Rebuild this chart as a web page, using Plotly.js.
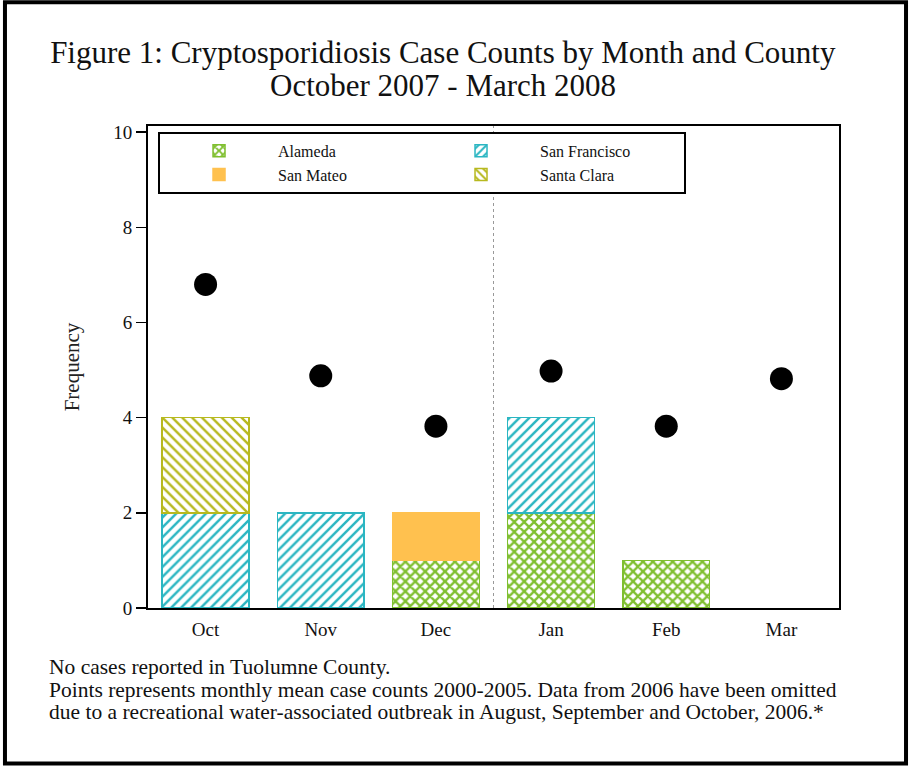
<!DOCTYPE html>
<html>
<head>
<meta charset="utf-8">
<script src="https://cdn.plot.ly/plotly-3.0.1.min.js"></script>
<style>
html,body{margin:0;padding:0;background:#fff;}
#chart{width:913px;height:767px;}
</style>
</head>
<body>
<div id="chart"></div>
<script>
var months = ["Oct", "Nov", "Dec", "Jan", "Feb", "Mar"];
var alameda = [0, 0, 1, 2, 1, 0];
var sanFrancisco = [2, 2, 0, 2, 0, 0];
var sanMateo = [0, 0, 1, 0, 0, 0];
var santaClara = [2, 0, 0, 0, 0, 0];
var monthlyMean = [6.8, 4.88, 3.82, 4.98, 3.82, 4.82];
var yTicks = [0, 2, 4, 6, 8, 10];

var serif = "Liberation Serif, Times New Roman, serif";

function barTrace(name, vals, color, shape, solid) {
  var pattern = shape ? {shape: shape, fgcolor: color, bgcolor: "#ffffff", size: 7, solidity: solid, fillmode: "replace"} : {shape: ""};
  return {
    type: "bar",
    name: name,
    x: months,
    y: vals.map(function (v) { return v === 0 ? null : v; }),
    width: 0.755,
    marker: {color: shape ? "#ffffff" : color, line: {color: color, width: 1.5}, pattern: pattern},
    hoverinfo: "x+y+name"
  };
}

var traces = [
  barTrace("Alameda", alameda, "#7fbf2f", "x", 0.55),
  barTrace("San Francisco", sanFrancisco, "#2bb6c2", "/", 0.35),
  barTrace("San Mateo", sanMateo, "#ffc14f", "", 0),
  barTrace("Santa Clara", santaClara, "#b7b91f", "\\", 0.35),
  {
    type: "scatter",
    mode: "markers",
    x: months,
    y: monthlyMean,
    showlegend: false,
    marker: {color: "#000000", size: 23},
    hoverinfo: "x+y"
  }
];

var noteFont = {family: serif, size: 21.5, color: "#111111"};

var layout = {
  width: 913,
  height: 767,
  paper_bgcolor: "#ffffff",
  plot_bgcolor: "#ffffff",
  barmode: "stack",
  margin: {l: 148, r: 74, t: 126, b: 159},
  font: {family: serif, color: "#000000", size: 19},
  title: {
    text: "Figure 1: Cryptosporidiosis Case Counts by Month and County",
    font: {family: serif, size: 31, color: "#111111"},
    xref: "container", x: 0.485, xanchor: "center",
    yref: "container", y: 1 - 52 / 767, yanchor: "middle"
  },
  xaxis: {
    type: "category",
    categoryorder: "array",
    categoryarray: months,
    range: [-0.5, 5.5],
    showline: true, mirror: true, linecolor: "#000000", linewidth: 2,
    ticks: "", showgrid: false, zeroline: false,
    tickfont: {family: serif, size: 19, color: "#111111"},
    ticklabelstandoff: 3
  },
  yaxis: {
    range: [0, 10.13],
    tickvals: yTicks,
    ticktext: yTicks.map(String),
    showline: true, mirror: true, linecolor: "#000000", linewidth: 2,
    ticks: "outside", ticklen: 10, tickwidth: 1.5, tickcolor: "#000000",
    showgrid: false, zeroline: false,
    tickfont: {family: serif, size: 19, color: "#111111"},
    title: {text: "Frequency", font: {family: serif, size: 21, color: "#222222"}, standoff: 28}
  },
  legend: {
    orientation: "h",
    x: 0.0145, xanchor: "left",
    y: 0.988, yanchor: "top",
    bgcolor: "#ffffff",
    bordercolor: "#000000",
    borderwidth: 2,
    itemwidth: 108,
    entrywidth: 139,
    entrywidthmode: "pixels",
    traceorder: "normal",
    font: {family: serif, size: 16, color: "#111111"},
    tracegroupgap: 0
  },
  shapes: [
    {type: "line", xref: "x", yref: "paper", x0: 2.5, x1: 2.5, y0: 0, y1: 1,
     line: {color: "#999999", width: 1, dash: "dot"}, layer: "below"},
    {type: "rect", xref: "paper", yref: "paper", x0: -0.207, x1: 1.097, y0: -0.3225, y1: 1.257,
     line: {color: "#000000", width: 4}, fillcolor: "rgba(0,0,0,0)"}
  ],
  annotations: [
    {xref: "paper", yref: "paper", x: (443 - 148) / 691, y: (608 - 85) / 482, xanchor: "center", yanchor: "middle", showarrow: false,
     text: "October 2007 - March 2008", font: {family: serif, size: 31, color: "#111111"}},
    {xref: "paper", yref: "paper", x: -0.146, y: -0.1224, xanchor: "left", yanchor: "middle", showarrow: false,
     text: "No cases reported in Tuolumne County.", font: noteFont},
    {xref: "paper", yref: "paper", x: -0.146, y: -0.170, xanchor: "left", yanchor: "middle", showarrow: false,
     text: "Points represents monthly mean case counts 2000-2005. Data from 2006 have been omitted", font: noteFont},
    {xref: "paper", yref: "paper", x: -0.146, y: -0.2158, xanchor: "left", yanchor: "middle", showarrow: false,
     text: "due to a recreational water-associated outbreak in August, September and October, 2006.*", font: noteFont}
  ]
};

Plotly.newPlot("chart", traces, layout, {displayModeBar: false, staticPlot: true});
</script>
</body>
</html>
